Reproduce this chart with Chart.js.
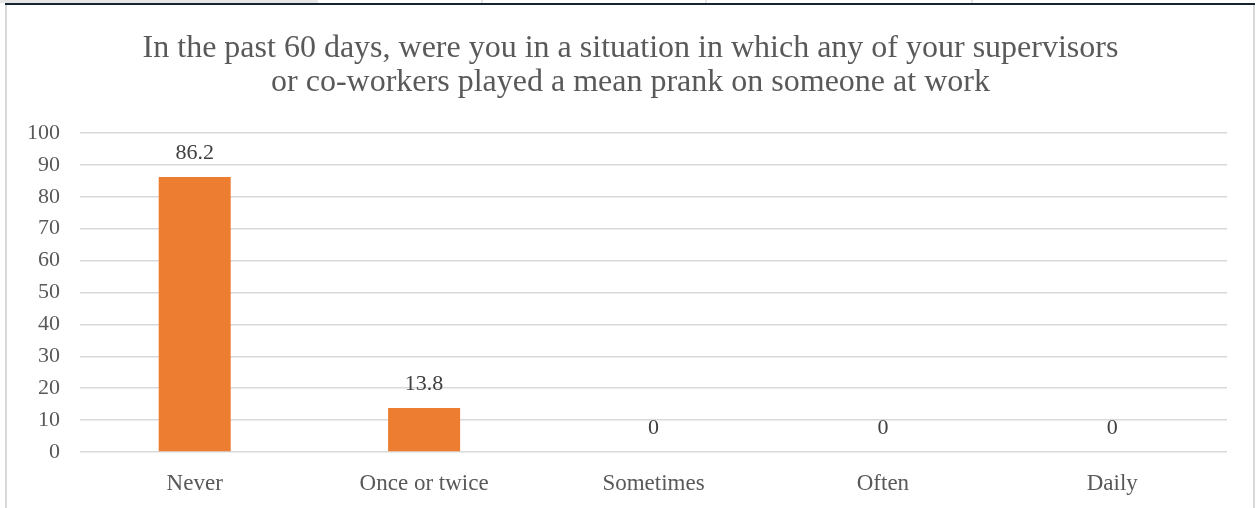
<!doctype html>
<html lang="en">
<head>
<meta charset="utf-8">
<title>Mean prank at work - past 60 days</title>
<style>
  body {margin: 0; background: #fff; width: 1259px; height: 508px; overflow: hidden; position: relative;}
  #strip {position: absolute; left: 0; top: 0; width: 318px; height: 3px; background: #e6e6e6;}
  .notch {position: absolute; top: 0; width: 2px; height: 3px; background: #e6e6e6;}
  #topline {position: absolute; left: 5px; top: 3px; width: 1250px; height: 2px; background: #17242d;}
  #frame {position: absolute; left: 5px; top: 5px; width: 1246px; height: 520px;
          border-left: 2px solid #d9d9d9; border-right: 2px solid #d9d9d9;}
  #myChart {position: absolute; left: 8px; top: 6px;}
</style>
</head>
<body>
<div id="strip"></div>
<div class="notch" style="left:481px"></div>
<div class="notch" style="left:705px"></div>
<div class="notch" style="left:971px"></div>
<div id="topline"></div>
<div id="frame"></div>
<canvas id="myChart" width="1245" height="502"></canvas>

<script src="https://cdn.jsdelivr.net/npm/chart.js@4.4.1/dist/chart.umd.min.js"></script>
<script>
var categories = ["Never", "Once or twice", "Sometimes", "Often", "Daily"];
var percents = [86.2, 13.8, 0, 0, 0];
var yTicks = [0, 10, 20, 30, 40, 50, 60, 70, 80, 90, 100];
var titleLines = [
  "In the past 60 days, were you in a situation in which any of your supervisors",
  "or co-workers played a mean prank on someone at work"
];

var serif = "'Liberation Serif', 'Times New Roman', serif";

// value printed above each bar
var barValues = {
  id: 'barValues',
  afterDatasetsDraw: function(chart) {
    var ctx = chart.ctx;
    var meta = chart.getDatasetMeta(0);
    ctx.save();
    ctx.font = "22px " + serif;
    ctx.fillStyle = "#404040";
    ctx.textAlign = "center";
    ctx.textBaseline = "middle";
    meta.data.forEach(function(bar, i) {
      ctx.fillText(String(chart.data.datasets[0].data[i]), bar.x, bar.y - 24);
    });
    ctx.restore();
  }
};

// two-line heading centred on the whole canvas (the built-in title
// centres on the padded box, which is lopsided here)
var heading = {
  id: 'heading',
  afterDraw: function(chart) {
    var ctx = chart.ctx;
    ctx.save();
    ctx.font = "32px " + serif;
    ctx.fillStyle = "#595959";
    ctx.textAlign = "center";
    ctx.textBaseline = "middle";
    titleLines.forEach(function(line, i) {
      ctx.fillText(line, chart.width / 2, 43 + i * 34);
    });
    ctx.restore();
  }
};

var ctx = document.getElementById('myChart').getContext('2d');
var myChart = new Chart(ctx, {
  type: 'bar',
  data: {
    labels: categories,
    datasets: [{
      data: percents,
      backgroundColor: "#ed7d31",
      barPercentage: 0.314,
      categoryPercentage: 1
    }]
  },
  options: {
    responsive: false,
    animation: false,
    devicePixelRatio: 1,
    layout: {padding: {left: 0, right: 26, top: 127, bottom: 0}},
    plugins: {
      legend: {display: false},
      tooltip: {enabled: false},
      title: {display: false}
    },
    scales: {
      x: {
        grid: {display: false},
        border: {display: false},
        ticks: {color: "#595959", font: {family: serif, size: 23}, padding: 10, maxRotation: 0},
        afterFit: function(s) { s.height = 56; }
      },
      y: {
        min: 0,
        max: 100,
        afterBuildTicks: function(s) { s.ticks = yTicks.map(function(v) { return {value: v}; }); },
        grid: {color: "#d9d9d9", lineWidth: 1.5, drawTicks: false},
        border: {display: false},
        ticks: {color: "#595959", font: {family: serif, size: 22}, padding: 20},
        afterFit: function(s) { s.width = 72; }
      }
    }
  },
  plugins: [barValues, heading]
});
</script>
</body>
</html>
